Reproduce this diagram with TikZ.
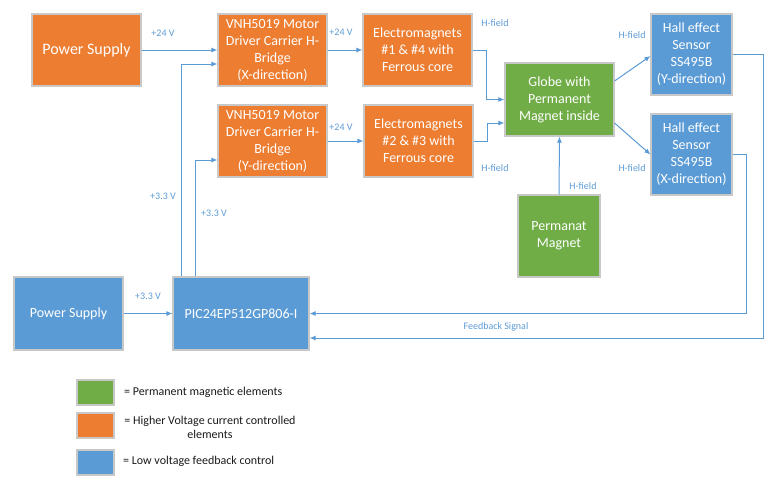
\documentclass[tikz,border=0pt]{standalone}
\usepackage{fontspec}
\setmainfont{Carlito}
\usetikzlibrary{arrows.meta}
\definecolor{orng}{HTML}{ED7D31}
\definecolor{blu}{HTML}{5B9BD5}
\definecolor{grn}{HTML}{70AD47}
\definecolor{lbl}{HTML}{5B9BD5}
\definecolor{edge}{HTML}{C8C8C8}
\definecolor{legtxt}{HTML}{1A1A1A}
\begin{document}
\begin{tikzpicture}[x=1pt,y=-1pt,
  box/.style={draw=edge,line width=1.1pt,text=white,align=center,inner sep=2pt,
    font=\fontsize{14}{17}\selectfont},
  ob/.style={box,fill=orng,minimum width=109pt,minimum height=72pt},
  bb/.style={box,fill=blu},
  gb/.style={box,fill=grn},
  arr/.style={draw=blu,line width=1pt,-{Latex[length=6pt,width=5pt]}},
  lab/.style={text=lbl,font=\fontsize{10}{12}\selectfont,inner sep=0pt},
  leg/.style={draw=edge,line width=1.1pt,minimum width=37pt,minimum height=25pt},
  legt/.style={text=legtxt,font=\fontsize{12}{14}\selectfont,align=center,inner sep=0pt}]
\useasboundingbox (0,0) rectangle (778,485);

% boxes
\node[ob,font=\fontsize{16}{19}\selectfont] (ps1) at (86.5,50) {Power Supply};
\node[ob] (dx) at (272.5,50) {VNH5019 Motor\\Driver Carrier H-\\Bridge\\(X-direction)};
\node[ob] (e1) at (417.5,50) {Electromagnets\\\#1 \& \#4 with\\Ferrous core};
\node[ob] (dy) at (272.5,141) {VNH5019 Motor\\Driver Carrier H-\\Bridge\\(Y-direction)};
\node[ob] (e2) at (418.5,141) {Electromagnets\\\#2 \& \#3 with\\Ferrous core};
\node[gb,minimum width=109pt,minimum height=73pt] (gl) at (559.5,99.5) {Globe with\\Permanent\\Magnet inside};
\node[bb,minimum width=81pt,minimum height=81pt] (hy) at (691.5,54.5) {Hall effect\\Sensor\\SS495B\\(Y-direction)};
\node[bb,minimum width=81pt,minimum height=81pt] (hx) at (691.5,154.5) {Hall effect\\Sensor\\SS495B\\(X-direction)};
\node[gb,minimum width=82pt,minimum height=82pt] (pm) at (559,236) {Permanat\\Magnet};
\node[bb,minimum width=109pt,minimum height=73pt] (ps2) at (68.5,313.5) {Power Supply};
\node[bb,minimum width=136pt,minimum height=73pt] (pic) at (241,313.5) {PIC24EP512GP806-I};

% connectors
\draw[arr] (ps1.east) -- (dx.west);
\draw[arr] (dx.east) -- (e1.west);
\draw[arr] (dy.east) -- (e2.west);
\draw[arr] ([xshift=9pt]pic.north west) |- ([yshift=-14pt]dx.west);
\draw[arr] ([xshift=23pt]pic.north west) |- ([yshift=-19pt]dy.west);
\draw[arr] (e1.east) -- ++(14,0) |- (gl.west);
\draw[arr] (e2.east) -- ++(14,0) |- ([yshift=-23.5pt]gl.west);
\draw[arr] ([yshift=18.5pt]gl.east) -- ([yshift=-1.5pt]hy.west);
\draw[arr] ([yshift=-23.5pt]gl.east) -- (hx.west);
\draw[arr] (pm.north) -- (gl.south);
\draw[arr] (ps2.east) -- (pic.west);
\coordinate (fy) at (763,338);
\coordinate (fx) at (746,313.5);
\draw[arr] (hy.east) -| (fy) -- (pic.east |- fy);
\draw[arr] (hx.east) -| (fx) -- (pic.east);

% labels
\node[lab] (l1) at (163,33) {+24 V};
\node[lab] (l2) at (341,32) {+24 V};
\node[lab] (l3) at (341,127) {+24 V};
\node[lab] (l4) at (163,196) {+3.3 V};
\node[lab] (l5) at (214,213) {+3.3 V};
\node[lab] (l6) at (148,296) {+3.3 V};
\node[lab] (h1) at (495,23) {H-field};
\node[lab] (h2) at (495,168) {H-field};
\node[lab] (h3) at (632,35) {H-field};
\node[lab] (h4) at (632,168) {H-field};
\node[lab] (h5) at (583,186) {H-field};
\node[lab] (fb) at (496,327) {Feedback Signal};

% legend
\node[leg,fill=grn] (lg1) at (95.5,392.5) {};
\node[leg,fill=orng] (lg2) at (95.5,425.5) {};
\node[leg,fill=blu] (lg3) at (95.5,462.5) {};
\node[legt,anchor=west] (t1) at (124,392) {= Permanent magnetic elements};
\node[legt] (t2) at (210,427) {= Higher Voltage current controlled\\elements};
\node[legt,anchor=west] (t3) at (123,461.5) {= Low voltage feedback control};
\end{tikzpicture}
\end{document}
